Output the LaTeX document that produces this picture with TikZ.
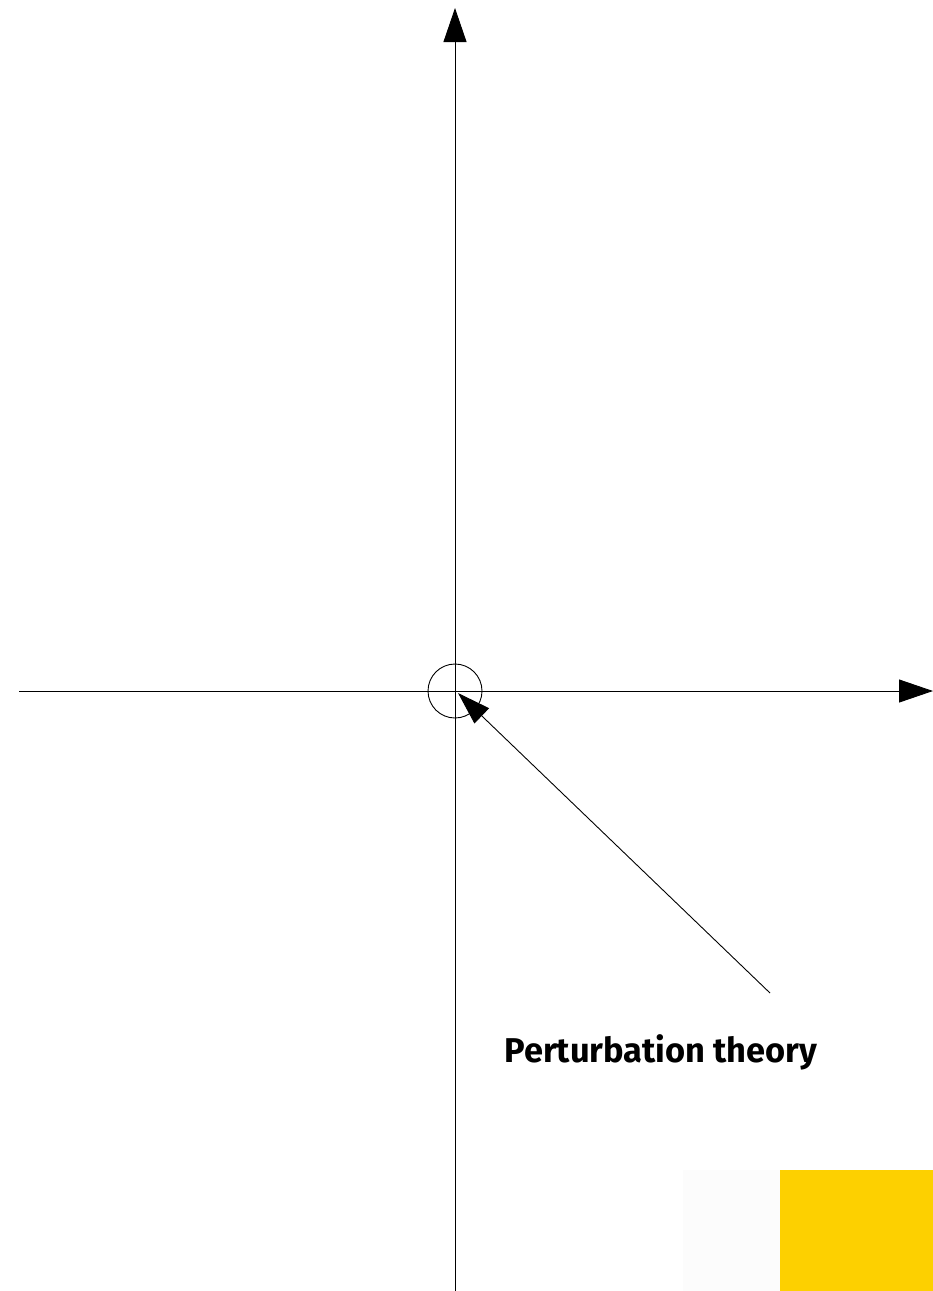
\documentclass[tikz,border=0pt]{standalone}
\usepackage{fontspec}
\setmainfont{Fira Sans}
\usetikzlibrary{arrows.meta}
\definecolor{sunyellow}{HTML}{FDD000}
\definecolor{offwhite}{HTML}{FCFCFC}
\tikzset{
  axis/.style={line width=0.9pt, -{Triangle[length=34pt,width=23pt]}},
  pointer/.style={line width=0.9pt, -{Triangle[length=33pt,width=21pt]}},
  label/.style={font=\bfseries, inner sep=0pt}
}
\begin{document}
\begin{tikzpicture}[x=1pt,y=-1pt]
\useasboundingbox (0,0) rectangle (933,1291);
\fill[offwhite] (683,1170) rectangle (780,1291);
\fill[sunyellow] (780,1170) rectangle (933,1291);
\coordinate (ybot) at (455,1291);
\coordinate (ytop) at (455,8);
\coordinate (xleft) at (19,691);
\coordinate (xright) at (933,691);
\coordinate (origin) at (455,691);
\coordinate (ptail) at (770,993);
\coordinate (phead) at (458,693);
\draw[axis] (ybot) -- (ytop);
\draw[axis] (xleft) -- (xright);
\node[draw, circle, line width=0.9pt, minimum size=54pt, inner sep=0pt] (ring) at (origin) {};
\draw[pointer] (ptail) -- (phead);
\node[label] (ptext) at (661,1052) {\resizebox{313pt}{!}{Perturbation theory}};
\end{tikzpicture}
\end{document}
